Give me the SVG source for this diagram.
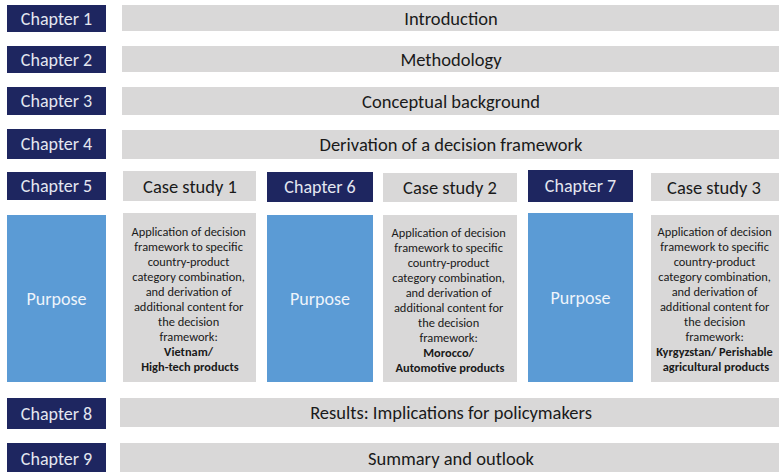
<svg xmlns="http://www.w3.org/2000/svg" width="779" height="472" viewBox="0 0 779 472">
  <style>
    text { font-family: Carlito, Lato, "Liberation Sans", sans-serif; text-anchor: middle; dominant-baseline: central; }
    .chap { fill: #1e2660; }
    .chap-t { fill: #e4e7f0; font-size: 18px; }
    .bar { fill: #d9d8d8; }
    .bar-t { fill: #1a1a1a; font-size: 18.5px; }
    .purp { fill: #5b9bd5; }
    .purp-t { fill: #eef4fb; font-size: 18px; }
    .body-t { fill: #1a1a1a; font-size: 12.4px; }
    .bold { font-weight: bold; }
  </style>

  <!-- chapter labels -->
  <g id="ch1"><rect class="chap" x="7" y="5" width="99" height="27"/><text class="chap-t" x="56.5" y="18.5">Chapter 1</text></g>
  <g id="ch2"><rect class="chap" x="7" y="46" width="99" height="27"/><text class="chap-t" x="56.5" y="59.5">Chapter 2</text></g>
  <g id="ch3"><rect class="chap" x="7" y="87" width="99" height="28"/><text class="chap-t" x="56.5" y="101">Chapter 3</text></g>
  <g id="ch4"><rect class="chap" x="7" y="129" width="99" height="30"/><text class="chap-t" x="56.5" y="144">Chapter 4</text></g>
  <g id="ch5"><rect class="chap" x="7" y="172" width="99" height="28"/><text class="chap-t" x="56.5" y="186">Chapter 5</text></g>
  <g id="ch6"><rect class="chap" x="267" y="172" width="106" height="30"/><text class="chap-t" x="320" y="187">Chapter 6</text></g>
  <g id="ch7"><rect class="chap" x="528" y="170" width="105" height="32"/><text class="chap-t" x="580.5" y="186">Chapter 7</text></g>
  <g id="ch8"><rect class="chap" x="7" y="398" width="99" height="31"/><text class="chap-t" x="56.5" y="413.5">Chapter 8</text></g>
  <g id="ch9"><rect class="chap" x="7" y="443" width="99" height="29"/><text class="chap-t" x="56.5" y="458.5">Chapter 9</text></g>

  <!-- full-width content bars -->
  <g id="introduction"><rect class="bar" x="122" y="5" width="657" height="26"/><text class="bar-t" x="451" y="18">Introduction</text></g>
  <g id="methodology"><rect class="bar" x="122" y="46" width="657" height="26"/><text class="bar-t" x="451" y="59">Methodology</text></g>
  <g id="background"><rect class="bar" x="122" y="87" width="657" height="28"/><text class="bar-t" x="451" y="101">Conceptual background</text></g>
  <g id="derivation"><rect class="bar" x="122" y="130" width="657" height="29"/><text class="bar-t" x="451" y="144.5">Derivation of a decision framework</text></g>
  <g id="results"><rect class="bar" x="120" y="398" width="659" height="29"/><text class="bar-t" x="451" y="412.5">Results: Implications for policymakers</text></g>
  <g id="summary"><rect class="bar" x="120" y="443" width="659" height="29"/><text class="bar-t" x="451" y="458.5">Summary and outlook</text></g>

  <!-- case study headers -->
  <g id="case1"><rect class="bar" x="123" y="171" width="133" height="30"/><text class="bar-t" x="190" y="186">Case study 1</text></g>
  <g id="case2"><rect class="bar" x="383" y="173" width="134" height="29"/><text class="bar-t" x="450" y="187.5">Case study 2</text></g>
  <g id="case3"><rect class="bar" x="651" y="173" width="128" height="28"/><text class="bar-t" x="714" y="187">Case study 3</text></g>

  <!-- purpose columns -->
  <g id="purpose1"><rect class="purp" x="7" y="215" width="99" height="167"/><text class="purp-t" x="56.5" y="299">Purpose</text></g>
  <g id="purpose2"><rect class="purp" x="267" y="215" width="106" height="167"/><text class="purp-t" x="320" y="299">Purpose</text></g>
  <g id="purpose3"><rect class="purp" x="528" y="213" width="105" height="169"/><text class="purp-t" x="580.5" y="298">Purpose</text></g>

  <!-- case descriptions -->
  <g id="desc1">
    <rect class="bar" x="123" y="213" width="133" height="169"/>
    <text class="body-t" x="190">
      <tspan x="190" y="231">Application of decision</tspan>
      <tspan x="190" y="246">framework to specific</tspan>
      <tspan x="190" y="261">country-product</tspan>
      <tspan x="190" y="276">category combination,</tspan>
      <tspan x="190" y="291">and derivation of</tspan>
      <tspan x="190" y="306">additional content for</tspan>
      <tspan x="190" y="321">the decision</tspan>
      <tspan x="190" y="336">framework:</tspan>
      <tspan x="190" y="351" class="bold">Vietnam/</tspan>
      <tspan x="190" y="366" class="bold">High-tech products</tspan>
    </text>
  </g>
  <g id="desc2">
    <rect class="bar" x="383" y="215" width="134" height="167"/>
    <text class="body-t" x="450">
      <tspan x="450" y="232">Application of decision</tspan>
      <tspan x="450" y="247">framework to specific</tspan>
      <tspan x="450" y="262">country-product</tspan>
      <tspan x="450" y="277">category combination,</tspan>
      <tspan x="450" y="292">and derivation of</tspan>
      <tspan x="450" y="307">additional content for</tspan>
      <tspan x="450" y="322">the decision</tspan>
      <tspan x="450" y="337">framework:</tspan>
      <tspan x="450" y="352" class="bold">Morocco/</tspan>
      <tspan x="450" y="367" class="bold">Automotive products</tspan>
    </text>
  </g>
  <g id="desc3">
    <rect class="bar" x="651" y="215" width="128" height="167"/>
    <text class="body-t" x="716">
      <tspan x="716" y="231">Application of decision</tspan>
      <tspan x="716" y="246">framework to specific</tspan>
      <tspan x="716" y="261">country-product</tspan>
      <tspan x="716" y="276">category combination,</tspan>
      <tspan x="716" y="291">and derivation of</tspan>
      <tspan x="716" y="306">additional content for</tspan>
      <tspan x="716" y="321">the decision</tspan>
      <tspan x="716" y="336">framework:</tspan>
      <tspan x="716" y="351" class="bold">Kyrgyzstan/ Perishable</tspan>
      <tspan x="716" y="366" class="bold">agricultural products</tspan>
    </text>
  </g>

  <g id="connectors"/>
</svg>
